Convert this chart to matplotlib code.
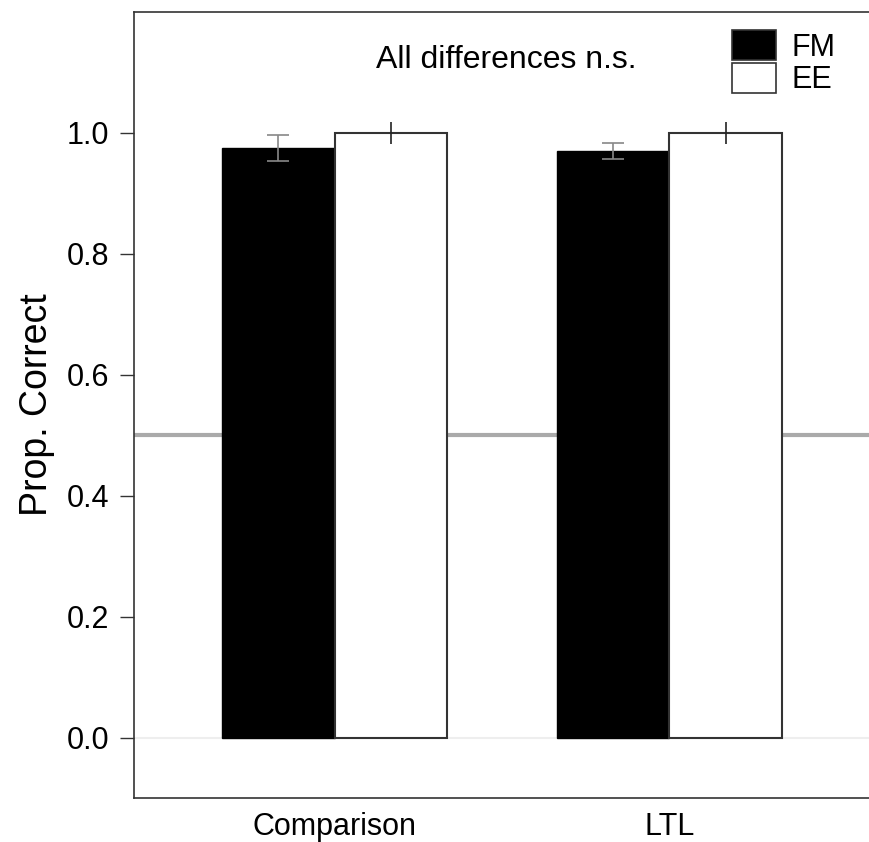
import matplotlib
matplotlib.use("Agg")
import matplotlib.pyplot as plt
from matplotlib.patches import Patch
import numpy as np

plt.rcParams['font.family'] = ['Liberation Sans', 'DejaVu Sans']

categories = ["Comparison", "LTL"]
fm_vals = [0.975, 0.970]
fm_err = [0.021, 0.013]
ee_vals = [1.0, 1.0]
ee_err = [0.018, 0.018]
yticks = [0.0, 0.2, 0.4, 0.6, 0.8, 1.0]
chance = 0.5

fig = plt.figure(figsize=(8.7, 8.42), dpi=100)
ax = fig.add_axes([134/870, 1-798/842, 1-134/870, (798-12)/842])

x = np.arange(len(categories))
w = 0.337
ax.axhline(0, color='#eeeeee', lw=1.5, zorder=0)
ax.axhline(chance, color='#aaaaaa', lw=3, zorder=0)
ax.bar(x - w/2, fm_vals, w, color='black', edgecolor='black', lw=1, zorder=2)
ax.bar(x + w/2, ee_vals, w, color='white', edgecolor='#333333', lw=1.5, zorder=2)
ax.errorbar(x - w/2, fm_vals, yerr=fm_err, fmt='none', ecolor='#888888',
            elinewidth=1.2, capsize=8, capthick=1.2, zorder=3)
ax.errorbar(x + w/2, ee_vals, yerr=ee_err, fmt='none', ecolor='#222222',
            elinewidth=1.2, capsize=0, zorder=3)

ax.set_xlim(-0.6, 1.6)
ax.set_ylim(-0.1, 1.2)
ax.set_yticks(yticks)
ax.set_yticklabels([f"{t:.1f}" for t in yticks], fontsize=22)
ax.set_xticks(x)
ax.set_xticklabels(categories, fontsize=22)
ax.tick_params(axis='x', length=0, pad=10)
ax.tick_params(axis='y', length=10, width=1, color='#333333', pad=8)
ax.set_ylabel("Prop. Correct", fontsize=27, labelpad=8)
for s in ['left', 'bottom', 'top']:
    ax.spines[s].set_color('#333333')
    ax.spines[s].set_linewidth(1.2)
ax.spines['right'].set_visible(False)

ax.text((506-134)/736, (798-60)/786, "All differences n.s.", fontsize=23,
        ha='center', va='center', transform=ax.transAxes)

handles = [Patch(facecolor='black', edgecolor='#333333', lw=1.2, label='FM'),
           Patch(facecolor='white', edgecolor='#333333', lw=1.2, label='EE')]
leg = ax.legend(handles=handles, loc='upper left',
                bbox_to_anchor=((732-134)/736, (798-30)/786),
                frameon=False, fontsize=22, handlelength=1.45, handleheight=1.15,
                labelspacing=0.0, handletextpad=0.5, borderpad=0, borderaxespad=0)

fig.savefig("out.png", dpi=100)
